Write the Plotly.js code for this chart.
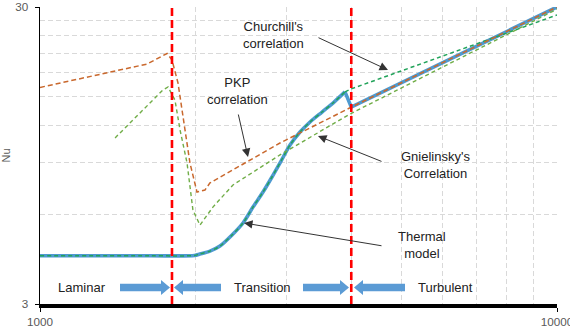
<!DOCTYPE html>
<html>
<head>
<meta charset="utf-8">
<script src="https://cdn.plot.ly/plotly-3.0.1.min.js"></script>
<style>html,body{margin:0;padding:0;background:#fff;}#chart{width:570px;height:333px;}</style>
</head>
<body>
<div id="chart"></div>
<script>
// ---- data ----
const thermalRe = [1000, 1630, 1990, 2039, 2132, 2229, 2352, 2470, 2582, 2700, 2810, 2926, 3045, 3184, 3329, 3512, 3705, 3890, 4000, 10000];
const thermalNu = [4.36, 4.36, 4.37, 4.42, 4.52, 4.70, 5.12, 5.62, 6.36, 7.15, 8.03, 9.09, 10.29, 11.38, 12.30, 13.29, 14.36, 15.53, 13.8, 30];

const churchillRe = [1000, 1630, 1990, 2039, 2132, 2229, 2352, 2470, 2582, 2700, 2810, 2926, 3045, 3184, 3329, 3512, 3705, 3890, 4000, 10000];
const churchillNu = [4.36, 4.36, 4.37, 4.42, 4.52, 4.70, 5.12, 5.62, 6.36, 7.15, 8.03, 9.09, 10.29, 11.38, 12.30, 13.29, 14.36, 15.53, 15.9, 28.2];

const gnielinskyRe = [1397, 1729, 1769, 1824, 1866, 1925, 1976, 2039, 2160, 2362, 2912, 3450, 3978, 10000];
const gnielinskyNu = [10.87, 15.77, 16.14, 14.59, 11.56, 8.95, 6.22, 5.53, 6.36, 7.55, 9.53, 11.3, 13.09, 29.5];

const pkpRe = [1000, 1611, 1761, 1800, 1849, 1908, 1950, 2012, 2085, 2132, 2912, 4000, 10000];
const pkpNu = [16.08, 19.28, 20.92, 19.9, 16.64, 11.56, 8.95, 7.15, 7.26, 7.67, 10.45, 13.8, 30];

const transitionRe = [1800, 4000];

const xTickVals = [1000, 10000];
const xTickText = ['1000', '10000'];
const xGridVals = [2000, 3000, 4000, 5000, 6000, 7000, 8000, 9000];
const yTickVals = [3, 30];
const yTickText = ['3', '30'];
const yGridVals = [6, 9, 12, 15, 18, 21, 24, 27];

const regimeLabels = ['Laminar', 'Transition', 'Turbulent'];
const seriesLabels = ["Churchill's<br>correlation", 'PKP<br>correlation', "Gnielinsky's<br>Correlation", 'Thermal<br>model'];

// ---- geometry helpers (pixel -> paper) ----
const L = 40, R = 557, T = 7, B = 304;
const px = x => (x - L) / (R - L);
const py = y => (B - y) / (B - T);

// the thermal model is smooth through the transition, then jumps at the turbulent onset
const jump = thermalRe.indexOf(4000);
const traces = [
  {x: thermalRe.slice(0, jump), y: thermalNu.slice(0, jump), mode: 'lines',
   line: {color: '#4e9ad0', width: 3.6, shape: 'spline', smoothing: 0.8}, hoverinfo: 'skip'},
  {x: thermalRe.slice(jump - 1), y: thermalNu.slice(jump - 1), mode: 'lines',
   line: {color: '#4e9ad0', width: 3.6}, hoverinfo: 'skip'},
  {x: churchillRe.slice(0, jump), y: churchillNu.slice(0, jump), mode: 'lines',
   line: {color: '#22a35a', width: 1.5, dash: '4px,3px', shape: 'spline', smoothing: 0.8}, hoverinfo: 'skip'},
  {x: churchillRe.slice(jump - 1), y: churchillNu.slice(jump - 1), mode: 'lines',
   line: {color: '#22a35a', width: 1.5, dash: '4px,3px'}, hoverinfo: 'skip'},
  {x: gnielinskyRe, y: gnielinskyNu, mode: 'lines', line: {color: '#70ad47', width: 1.4, dash: '4px,3px'}, hoverinfo: 'skip'},
  {x: pkpRe, y: pkpNu, mode: 'lines', line: {color: '#c9682d', width: 1.5, dash: '5px,3px'}, hoverinfo: 'skip'}
];
transitionRe.forEach(re => traces.push({
  x: [re, re], y: [3, 30], mode: 'lines',
  line: {color: '#ff0000', width: 2.6, dash: '8px,4px'}, hoverinfo: 'skip'
}));

// blue regime arrows
function arrowPath(tail, tip, yc) {
  const dir = Math.sign(tip - tail);
  const hb = tip - dir * 9;
  const bh = 3.8, hh = 7.5;
  const pts = [[tail, yc - bh], [hb, yc - bh], [hb, yc - hh], [tip, yc], [hb, yc + hh], [hb, yc + bh], [tail, yc + bh]];
  return 'M' + pts.map(p => px(p[0]).toFixed(5) + ',' + py(p[1]).toFixed(5)).join(' L') + ' Z';
}
const arrowDefs = [[120, 170], [221, 174], [303, 349], [405, 354]];
const shapes = arrowDefs.map(a => ({
  type: 'path', xref: 'paper', yref: 'paper', path: arrowPath(a[0], a[1], 287.5),
  fillcolor: '#5b9bd5', line: {width: 0}, layer: 'above'
}));

const txtFont = {family: 'Arial, Liberation Sans, sans-serif', size: 13, color: '#222222'};
const annotations = [];
[[82, 287], [262, 287], [445, 287]].forEach((p, i) => annotations.push({
  xref: 'paper', yref: 'paper', x: px(p[0]), y: py(p[1]), text: regimeLabels[i],
  showarrow: false, font: txtFont, xanchor: 'center', yanchor: 'middle'
}));
[[273, 35], [237, 91], [435, 165], [422, 245]].forEach((p, i) => annotations.push({
  xref: 'paper', yref: 'paper', x: px(p[0]), y: py(p[1]), text: seriesLabels[i],
  showarrow: false, font: txtFont, xanchor: 'center', yanchor: 'middle', align: 'center'
}));
// pointer arrows: [tipX, tipY, tailX, tailY]
[[388, 70, 317, 37], [248, 157, 238, 113], [318, 136, 383, 162], [244, 223, 383, 246]].forEach(a => annotations.push({
  xref: 'paper', yref: 'paper', x: px(a[0]), y: py(a[1]), ax: a[2] - a[0], ay: a[3] - a[1],
  text: '', showarrow: true, arrowhead: 2, arrowsize: 1.7, arrowwidth: 1, arrowcolor: '#333333'
}));

const tickFont = {family: 'Arial, Liberation Sans, sans-serif', size: 11.7, color: '#595959'};
const layout = {
  width: 570, height: 333,
  margin: {l: L, r: 570 - R, t: T, b: 333 - B, pad: 0},
  paper_bgcolor: '#ffffff', plot_bgcolor: '#ffffff',
  showlegend: false,
  font: {family: 'Arial, Liberation Sans, sans-serif'},
  xaxis: {
    type: 'log', range: [3, 4], tickmode: 'array', tickvals: xTickVals, ticktext: xTickText,
    tickfont: tickFont, ticks: 'outside', ticklen: 4, tickcolor: '#000', ticklabelstandoff: 0,
    ticklabeloverflow: 'allow',
    showline: true, linecolor: '#000', linewidth: 3.5,
    showgrid: true, gridcolor: '#d9d9d9', gridwidth: 1.5,
    minor: {tickmode: 'array', tickvals: xGridVals, showgrid: true, gridcolor: '#d9d9d9', gridwidth: 1, griddash: '5px,3px', ticks: ''},
    zeroline: false, fixedrange: true
  },
  yaxis: {
    type: 'log', range: [Math.log10(3), Math.log10(30)], tickmode: 'array', tickvals: yTickVals, ticktext: yTickText,
    tickfont: tickFont, ticks: 'outside', ticklen: 4, tickcolor: '#000', ticklabelstandoff: 4,
    showline: true, linecolor: '#000', linewidth: 1.5,
    showgrid: true, gridcolor: '#d9d9d9', gridwidth: 2,
    minor: {tickmode: 'array', tickvals: yGridVals, showgrid: true, gridcolor: '#d9d9d9', gridwidth: 1, griddash: '5px,3px', ticks: ''},
    title: {text: 'Nu', font: {family: 'Arial, Liberation Sans, sans-serif', size: 11, color: '#595959'}, standoff: 2},
    zeroline: false, fixedrange: true
  },
  shapes: shapes,
  annotations: annotations
};

Plotly.newPlot('chart', traces, layout, {displayModeBar: false, staticPlot: true});
</script>
</body>
</html>
